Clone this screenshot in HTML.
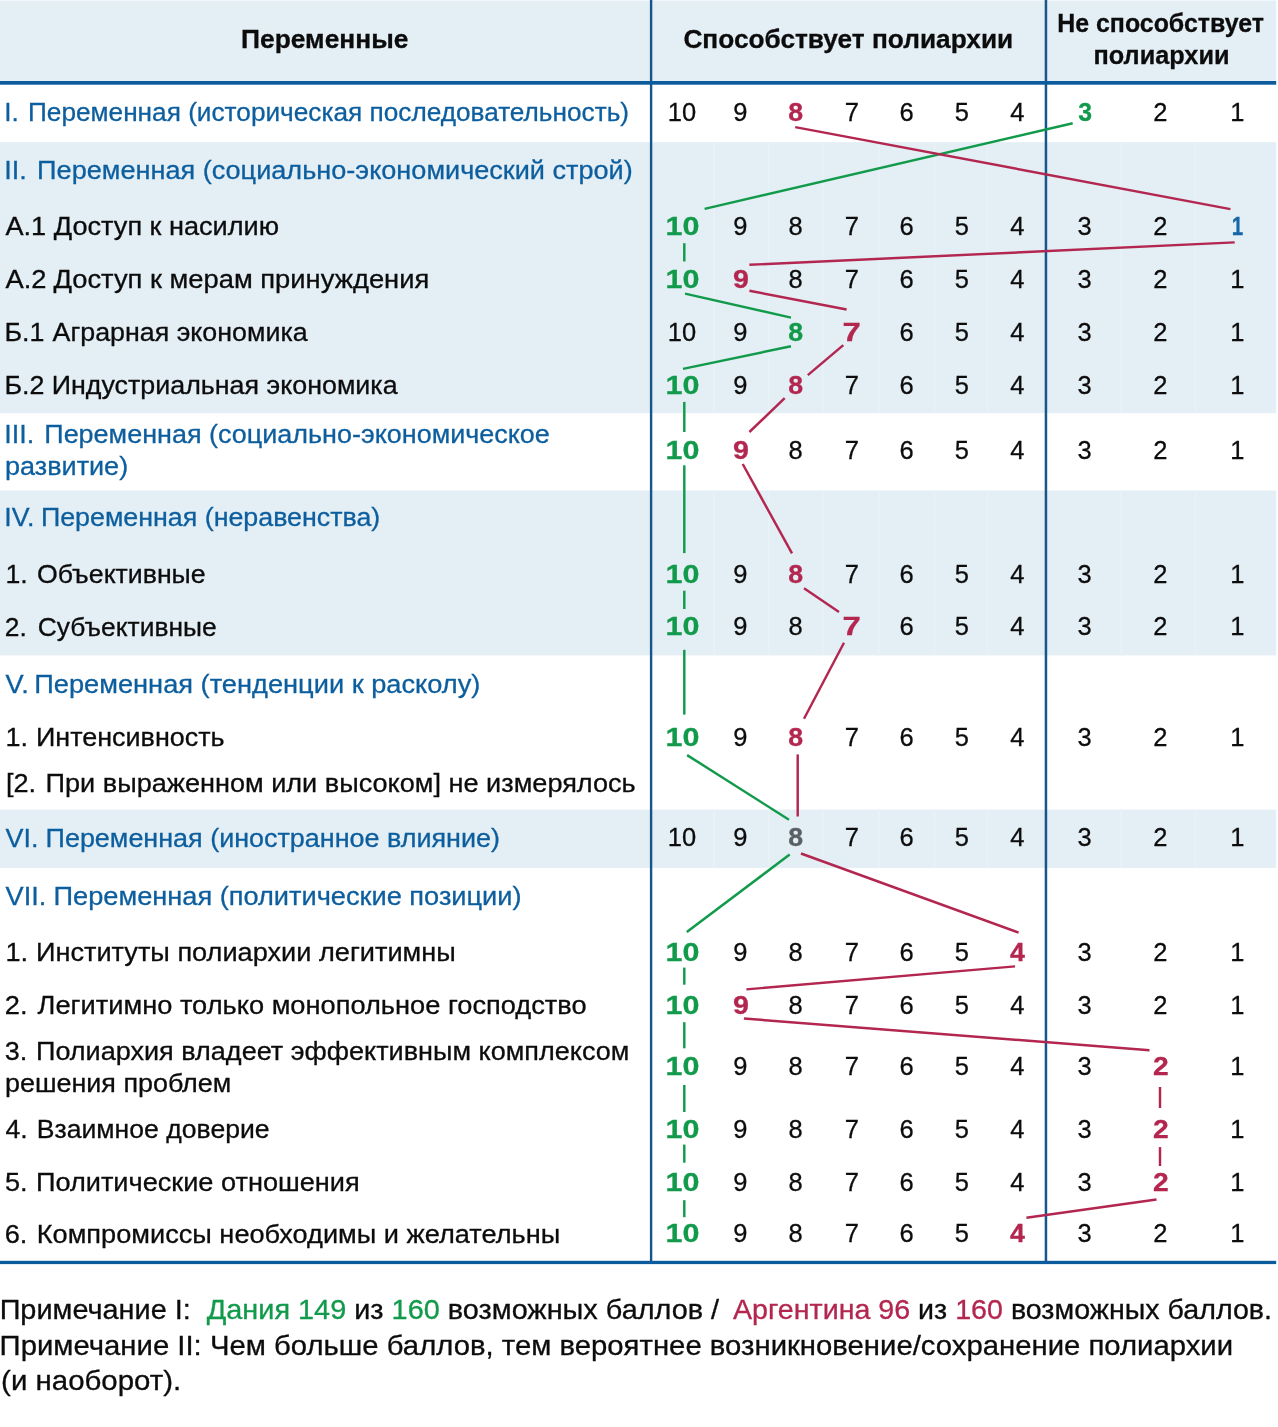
<!DOCTYPE html>
<html lang="ru">
<head>
<meta charset="utf-8">
<title>Переменные полиархии: Дания и Аргентина</title>
<style>
html,body{margin:0;padding:0;background:#fff;}
body{width:1278px;height:1427px;overflow:hidden;position:relative;font-family:"Liberation Sans", sans-serif;}
svg{position:absolute;left:0;top:0;display:block;will-change:transform;}
text{font-family:"Liberation Sans", sans-serif;font-size:26.3px;fill:#0c0c0c;white-space:pre;}
.b{font-weight:bold;}
#notes text{font-size:27.6px;}
#scores text{font-size:26.7px;}
text{stroke-width:0.3px;stroke:#0c0c0c;}
.cb{fill:#0c5e9e;stroke:#0c5e9e;}
.cg{fill:#129a4b;stroke:#129a4b;}
.cr{fill:#b3264f;stroke:#b3264f;}
.cy{fill:#5b6067;stroke:#5b6067;}
.cu{fill:#1767a8;stroke:#1767a8;}
.g{stroke:#129a4b;stroke-width:2.45;fill:none;}
.r{stroke:#b3264f;stroke-width:2.45;fill:none;}
</style>
</head>
<body>
<svg width="1278" height="1427" viewBox="0 0 1278 1427">
<g id="bands" fill="#e3eef5">
<rect x="0" y="0.5" width="1276.2" height="81.5"/>
<rect x="0" y="142.2" width="1276.2" height="271.0"/>
<rect x="0" y="490.5" width="1276.2" height="164.9"/>
<rect x="0" y="809.6" width="1276.2" height="58.3"/>
</g>
<g id="seps" stroke="#e8f1f7" stroke-width="2">
<line x1="713.9" y1="142.2" x2="713.9" y2="413.2"/>
<line x1="768.8" y1="142.2" x2="768.8" y2="413.2"/>
<line x1="822.8" y1="142.2" x2="822.8" y2="413.2"/>
<line x1="879.0" y1="142.2" x2="879.0" y2="413.2"/>
<line x1="934.5" y1="142.2" x2="934.5" y2="413.2"/>
<line x1="987.5" y1="142.2" x2="987.5" y2="413.2"/>
<line x1="1121.0" y1="142.2" x2="1121.0" y2="413.2"/>
<line x1="1195.5" y1="142.2" x2="1195.5" y2="413.2"/>
<line x1="713.9" y1="490.5" x2="713.9" y2="655.4"/>
<line x1="768.8" y1="490.5" x2="768.8" y2="655.4"/>
<line x1="822.8" y1="490.5" x2="822.8" y2="655.4"/>
<line x1="879.0" y1="490.5" x2="879.0" y2="655.4"/>
<line x1="934.5" y1="490.5" x2="934.5" y2="655.4"/>
<line x1="987.5" y1="490.5" x2="987.5" y2="655.4"/>
<line x1="1121.0" y1="490.5" x2="1121.0" y2="655.4"/>
<line x1="1195.5" y1="490.5" x2="1195.5" y2="655.4"/>
<line x1="713.9" y1="809.6" x2="713.9" y2="867.9"/>
<line x1="768.8" y1="809.6" x2="768.8" y2="867.9"/>
<line x1="822.8" y1="809.6" x2="822.8" y2="867.9"/>
<line x1="879.0" y1="809.6" x2="879.0" y2="867.9"/>
<line x1="934.5" y1="809.6" x2="934.5" y2="867.9"/>
<line x1="987.5" y1="809.6" x2="987.5" y2="867.9"/>
<line x1="1121.0" y1="809.6" x2="1121.0" y2="867.9"/>
<line x1="1195.5" y1="809.6" x2="1195.5" y2="867.9"/>
</g>
<g id="rules">
<rect x="649.9" y="0" width="2.4" height="1263" fill="#16568a"/>
<rect x="1044.7" y="0" width="2.5" height="1263" fill="#16568a"/>
<rect x="0" y="81" width="1276.2" height="3.7" fill="#0c5b9c"/>
<rect x="0" y="1260.8" width="1276.2" height="3.3" fill="#0c5b9c"/>
</g>
<g id="head" class="b">
<text x="241.00" y="47.7" textLength="167.43" lengthAdjust="spacingAndGlyphs">Переменные</text>
<text x="683.40" y="47.8" textLength="329.86" lengthAdjust="spacingAndGlyphs">Способствует полиархии</text>
<text x="1057.25" y="32.0" textLength="206.63" lengthAdjust="spacingAndGlyphs">Не способствует</text>
<text x="1093.54" y="63.8" textLength="135.98" lengthAdjust="spacingAndGlyphs">полиархии</text>
</g>
<g id="labels">
<text y="120.8" class="cb"><tspan x="4.31" textLength="21.84" lengthAdjust="spacingAndGlyphs">I. </tspan><tspan x="28.01" textLength="601.05" lengthAdjust="spacingAndGlyphs">Переменная (историческая последовательность)</tspan></text>
<text y="178.9" class="cb"><tspan x="4.24" textLength="30.11" lengthAdjust="spacingAndGlyphs">II. </tspan><tspan x="37.14" textLength="595.64" lengthAdjust="spacingAndGlyphs">Переменная (социально-экономический строй)</tspan></text>
<text y="234.7"><tspan x="5.50" textLength="48.23" lengthAdjust="spacingAndGlyphs">А.1 </tspan><tspan x="53.80" textLength="225.25" lengthAdjust="spacingAndGlyphs">Доступ к насилию</tspan></text>
<text y="287.8"><tspan x="5.50" textLength="48.63" lengthAdjust="spacingAndGlyphs">А.2 </tspan><tspan x="53.40" textLength="375.89" lengthAdjust="spacingAndGlyphs">Доступ к мерам принуждения</tspan></text>
<text y="341.0"><tspan x="4.46" textLength="47.40" lengthAdjust="spacingAndGlyphs">Б.1 </tspan><tspan x="52.60" textLength="255.02" lengthAdjust="spacingAndGlyphs">Аграрная экономика</tspan></text>
<text y="393.8"><tspan x="4.46" textLength="47.44" lengthAdjust="spacingAndGlyphs">Б.2 </tspan><tspan x="51.76" textLength="345.86" lengthAdjust="spacingAndGlyphs">Индустриальная экономика</tspan></text>
<text y="442.6" class="cb"><tspan x="4.25" textLength="37.45" lengthAdjust="spacingAndGlyphs">III. </tspan><tspan x="44.25" textLength="505.59" lengthAdjust="spacingAndGlyphs">Переменная (социально-экономическое</tspan></text>
<text x="4.97" y="475.1" textLength="123.21" lengthAdjust="spacingAndGlyphs" class="cb">развитие)</text>
<text y="526.4" class="cb"><tspan x="4.26" textLength="37.75" lengthAdjust="spacingAndGlyphs">IV. </tspan><tspan x="40.96" textLength="339.31" lengthAdjust="spacingAndGlyphs">Переменная (неравенства)</tspan></text>
<text y="583.0"><tspan x="5.47" textLength="29.66" lengthAdjust="spacingAndGlyphs">1. </tspan><tspan x="36.99" textLength="168.65" lengthAdjust="spacingAndGlyphs">Объективные</tspan></text>
<text y="635.5"><tspan x="4.80" textLength="29.33" lengthAdjust="spacingAndGlyphs">2. </tspan><tspan x="37.80" textLength="178.83" lengthAdjust="spacingAndGlyphs">Субъективные</tspan></text>
<text y="693.4" class="cb"><tspan x="5.50" textLength="30.79" lengthAdjust="spacingAndGlyphs">V. </tspan><tspan x="34.23" textLength="446.15" lengthAdjust="spacingAndGlyphs">Переменная (тенденции к расколу)</tspan></text>
<text y="745.7"><tspan x="5.45" textLength="29.95" lengthAdjust="spacingAndGlyphs">1. </tspan><tspan x="35.95" textLength="188.67" lengthAdjust="spacingAndGlyphs">Интенсивность</tspan></text>
<text y="792.3"><tspan x="5.97" textLength="37.67" lengthAdjust="spacingAndGlyphs">[2. </tspan><tspan x="45.54" textLength="590.18" lengthAdjust="spacingAndGlyphs">При выраженном или высоком] не измерялось</tspan></text>
<text y="846.5" class="cb"><tspan x="5.50" textLength="40.42" lengthAdjust="spacingAndGlyphs">VI. </tspan><tspan x="45.55" textLength="454.42" lengthAdjust="spacingAndGlyphs">Переменная (иностранное влияние)</tspan></text>
<text y="904.6" class="cb"><tspan x="5.50" textLength="48.36" lengthAdjust="spacingAndGlyphs">VII. </tspan><tspan x="53.53" textLength="468.05" lengthAdjust="spacingAndGlyphs">Переменная (политические позиции)</tspan></text>
<text y="960.7"><tspan x="5.44" textLength="30.18" lengthAdjust="spacingAndGlyphs">1. </tspan><tspan x="35.94" textLength="419.79" lengthAdjust="spacingAndGlyphs">Институты полиархии легитимны</tspan></text>
<text y="1013.7"><tspan x="4.76" textLength="30.28" lengthAdjust="spacingAndGlyphs">2. </tspan><tspan x="37.60" textLength="549.05" lengthAdjust="spacingAndGlyphs">Легитимно только монопольное господство</tspan></text>
<text y="1059.6"><tspan x="4.77" textLength="30.07" lengthAdjust="spacingAndGlyphs">3. </tspan><tspan x="35.94" textLength="593.47" lengthAdjust="spacingAndGlyphs">Полиархия владеет эффективным комплексом</tspan></text>
<text x="4.98" y="1091.7" textLength="226.33" lengthAdjust="spacingAndGlyphs">решения проблем</text>
<text y="1137.6"><tspan x="5.50" textLength="29.56" lengthAdjust="spacingAndGlyphs">4. </tspan><tspan x="36.78" textLength="232.85" lengthAdjust="spacingAndGlyphs">Взаимное доверие</tspan></text>
<text y="1190.9"><tspan x="4.97" textLength="30.17" lengthAdjust="spacingAndGlyphs">5. </tspan><tspan x="35.94" textLength="323.74" lengthAdjust="spacingAndGlyphs">Политические отношения</tspan></text>
<text y="1242.6"><tspan x="4.77" textLength="30.21" lengthAdjust="spacingAndGlyphs">6. </tspan><tspan x="36.73" textLength="523.50" lengthAdjust="spacingAndGlyphs">Компромиссы необходимы и желательны</tspan></text>
</g>
<g id="scores">
<text x="667.77" y="120.6" textLength="28.35" lengthAdjust="spacingAndGlyphs">10</text>
<text x="733.34" y="120.6" textLength="14.17" lengthAdjust="spacingAndGlyphs">9</text>
<text class="b cr" x="788.20" y="120.6" textLength="14.84" lengthAdjust="spacingAndGlyphs">8</text>
<text x="844.64" y="120.6" textLength="14.17" lengthAdjust="spacingAndGlyphs">7</text>
<text x="899.54" y="120.6" textLength="14.17" lengthAdjust="spacingAndGlyphs">6</text>
<text x="954.84" y="120.6" textLength="14.17" lengthAdjust="spacingAndGlyphs">5</text>
<text x="1010.34" y="120.6" textLength="14.17" lengthAdjust="spacingAndGlyphs">4</text>
<text class="b cg" x="1078.20" y="120.6" textLength="13.78" lengthAdjust="spacingAndGlyphs">3</text>
<text x="1153.24" y="120.6" textLength="14.17" lengthAdjust="spacingAndGlyphs">2</text>
<text x="1230.16" y="120.6" textLength="14.17" lengthAdjust="spacingAndGlyphs">1</text>
<text class="b cg" x="665.46" y="234.8" textLength="33.90" lengthAdjust="spacingAndGlyphs">10</text>
<text x="733.34" y="234.8" textLength="14.17" lengthAdjust="spacingAndGlyphs">9</text>
<text x="788.54" y="234.8" textLength="14.17" lengthAdjust="spacingAndGlyphs">8</text>
<text x="844.64" y="234.8" textLength="14.17" lengthAdjust="spacingAndGlyphs">7</text>
<text x="899.54" y="234.8" textLength="14.17" lengthAdjust="spacingAndGlyphs">6</text>
<text x="954.84" y="234.8" textLength="14.17" lengthAdjust="spacingAndGlyphs">5</text>
<text x="1010.34" y="234.8" textLength="14.17" lengthAdjust="spacingAndGlyphs">4</text>
<text x="1077.54" y="234.8" textLength="14.17" lengthAdjust="spacingAndGlyphs">3</text>
<text x="1153.24" y="234.8" textLength="14.17" lengthAdjust="spacingAndGlyphs">2</text>
<text class="b cu" x="1231.63" y="234.8" textLength="11.45" lengthAdjust="spacingAndGlyphs">1</text>
<text class="b cg" x="665.46" y="288.2" textLength="33.90" lengthAdjust="spacingAndGlyphs">10</text>
<text class="b cr" x="733.00" y="288.2" textLength="15.90" lengthAdjust="spacingAndGlyphs">9</text>
<text x="788.54" y="288.2" textLength="14.17" lengthAdjust="spacingAndGlyphs">8</text>
<text x="844.64" y="288.2" textLength="14.17" lengthAdjust="spacingAndGlyphs">7</text>
<text x="899.54" y="288.2" textLength="14.17" lengthAdjust="spacingAndGlyphs">6</text>
<text x="954.84" y="288.2" textLength="14.17" lengthAdjust="spacingAndGlyphs">5</text>
<text x="1010.34" y="288.2" textLength="14.17" lengthAdjust="spacingAndGlyphs">4</text>
<text x="1077.54" y="288.2" textLength="14.17" lengthAdjust="spacingAndGlyphs">3</text>
<text x="1153.24" y="288.2" textLength="14.17" lengthAdjust="spacingAndGlyphs">2</text>
<text x="1230.16" y="288.2" textLength="14.17" lengthAdjust="spacingAndGlyphs">1</text>
<text x="667.77" y="340.7" textLength="28.35" lengthAdjust="spacingAndGlyphs">10</text>
<text x="733.34" y="340.7" textLength="14.17" lengthAdjust="spacingAndGlyphs">9</text>
<text class="b cg" x="788.20" y="340.7" textLength="14.84" lengthAdjust="spacingAndGlyphs">8</text>
<text class="b cr" x="842.57" y="340.7" textLength="18.27" lengthAdjust="spacingAndGlyphs">7</text>
<text x="899.54" y="340.7" textLength="14.17" lengthAdjust="spacingAndGlyphs">6</text>
<text x="954.84" y="340.7" textLength="14.17" lengthAdjust="spacingAndGlyphs">5</text>
<text x="1010.34" y="340.7" textLength="14.17" lengthAdjust="spacingAndGlyphs">4</text>
<text x="1077.54" y="340.7" textLength="14.17" lengthAdjust="spacingAndGlyphs">3</text>
<text x="1153.24" y="340.7" textLength="14.17" lengthAdjust="spacingAndGlyphs">2</text>
<text x="1230.16" y="340.7" textLength="14.17" lengthAdjust="spacingAndGlyphs">1</text>
<text class="b cg" x="665.46" y="393.9" textLength="33.90" lengthAdjust="spacingAndGlyphs">10</text>
<text x="733.34" y="393.9" textLength="14.17" lengthAdjust="spacingAndGlyphs">9</text>
<text class="b cr" x="788.20" y="393.9" textLength="14.84" lengthAdjust="spacingAndGlyphs">8</text>
<text x="844.64" y="393.9" textLength="14.17" lengthAdjust="spacingAndGlyphs">7</text>
<text x="899.54" y="393.9" textLength="14.17" lengthAdjust="spacingAndGlyphs">6</text>
<text x="954.84" y="393.9" textLength="14.17" lengthAdjust="spacingAndGlyphs">5</text>
<text x="1010.34" y="393.9" textLength="14.17" lengthAdjust="spacingAndGlyphs">4</text>
<text x="1077.54" y="393.9" textLength="14.17" lengthAdjust="spacingAndGlyphs">3</text>
<text x="1153.24" y="393.9" textLength="14.17" lengthAdjust="spacingAndGlyphs">2</text>
<text x="1230.16" y="393.9" textLength="14.17" lengthAdjust="spacingAndGlyphs">1</text>
<text class="b cg" x="665.46" y="459.0" textLength="33.90" lengthAdjust="spacingAndGlyphs">10</text>
<text class="b cr" x="733.00" y="459.0" textLength="15.90" lengthAdjust="spacingAndGlyphs">9</text>
<text x="788.54" y="459.0" textLength="14.17" lengthAdjust="spacingAndGlyphs">8</text>
<text x="844.64" y="459.0" textLength="14.17" lengthAdjust="spacingAndGlyphs">7</text>
<text x="899.54" y="459.0" textLength="14.17" lengthAdjust="spacingAndGlyphs">6</text>
<text x="954.84" y="459.0" textLength="14.17" lengthAdjust="spacingAndGlyphs">5</text>
<text x="1010.34" y="459.0" textLength="14.17" lengthAdjust="spacingAndGlyphs">4</text>
<text x="1077.54" y="459.0" textLength="14.17" lengthAdjust="spacingAndGlyphs">3</text>
<text x="1153.24" y="459.0" textLength="14.17" lengthAdjust="spacingAndGlyphs">2</text>
<text x="1230.16" y="459.0" textLength="14.17" lengthAdjust="spacingAndGlyphs">1</text>
<text class="b cg" x="665.46" y="582.7" textLength="33.90" lengthAdjust="spacingAndGlyphs">10</text>
<text x="733.34" y="582.7" textLength="14.17" lengthAdjust="spacingAndGlyphs">9</text>
<text class="b cr" x="788.20" y="582.7" textLength="14.84" lengthAdjust="spacingAndGlyphs">8</text>
<text x="844.64" y="582.7" textLength="14.17" lengthAdjust="spacingAndGlyphs">7</text>
<text x="899.54" y="582.7" textLength="14.17" lengthAdjust="spacingAndGlyphs">6</text>
<text x="954.84" y="582.7" textLength="14.17" lengthAdjust="spacingAndGlyphs">5</text>
<text x="1010.34" y="582.7" textLength="14.17" lengthAdjust="spacingAndGlyphs">4</text>
<text x="1077.54" y="582.7" textLength="14.17" lengthAdjust="spacingAndGlyphs">3</text>
<text x="1153.24" y="582.7" textLength="14.17" lengthAdjust="spacingAndGlyphs">2</text>
<text x="1230.16" y="582.7" textLength="14.17" lengthAdjust="spacingAndGlyphs">1</text>
<text class="b cg" x="665.46" y="635.2" textLength="33.90" lengthAdjust="spacingAndGlyphs">10</text>
<text x="733.34" y="635.2" textLength="14.17" lengthAdjust="spacingAndGlyphs">9</text>
<text x="788.54" y="635.2" textLength="14.17" lengthAdjust="spacingAndGlyphs">8</text>
<text class="b cr" x="842.57" y="635.2" textLength="18.27" lengthAdjust="spacingAndGlyphs">7</text>
<text x="899.54" y="635.2" textLength="14.17" lengthAdjust="spacingAndGlyphs">6</text>
<text x="954.84" y="635.2" textLength="14.17" lengthAdjust="spacingAndGlyphs">5</text>
<text x="1010.34" y="635.2" textLength="14.17" lengthAdjust="spacingAndGlyphs">4</text>
<text x="1077.54" y="635.2" textLength="14.17" lengthAdjust="spacingAndGlyphs">3</text>
<text x="1153.24" y="635.2" textLength="14.17" lengthAdjust="spacingAndGlyphs">2</text>
<text x="1230.16" y="635.2" textLength="14.17" lengthAdjust="spacingAndGlyphs">1</text>
<text class="b cg" x="665.46" y="745.6" textLength="33.90" lengthAdjust="spacingAndGlyphs">10</text>
<text x="733.34" y="745.6" textLength="14.17" lengthAdjust="spacingAndGlyphs">9</text>
<text class="b cr" x="788.20" y="745.6" textLength="14.84" lengthAdjust="spacingAndGlyphs">8</text>
<text x="844.64" y="745.6" textLength="14.17" lengthAdjust="spacingAndGlyphs">7</text>
<text x="899.54" y="745.6" textLength="14.17" lengthAdjust="spacingAndGlyphs">6</text>
<text x="954.84" y="745.6" textLength="14.17" lengthAdjust="spacingAndGlyphs">5</text>
<text x="1010.34" y="745.6" textLength="14.17" lengthAdjust="spacingAndGlyphs">4</text>
<text x="1077.54" y="745.6" textLength="14.17" lengthAdjust="spacingAndGlyphs">3</text>
<text x="1153.24" y="745.6" textLength="14.17" lengthAdjust="spacingAndGlyphs">2</text>
<text x="1230.16" y="745.6" textLength="14.17" lengthAdjust="spacingAndGlyphs">1</text>
<text x="667.77" y="846.0" textLength="28.35" lengthAdjust="spacingAndGlyphs">10</text>
<text x="733.34" y="846.0" textLength="14.17" lengthAdjust="spacingAndGlyphs">9</text>
<text class="b cy" x="788.20" y="846.0" textLength="14.84" lengthAdjust="spacingAndGlyphs">8</text>
<text x="844.64" y="846.0" textLength="14.17" lengthAdjust="spacingAndGlyphs">7</text>
<text x="899.54" y="846.0" textLength="14.17" lengthAdjust="spacingAndGlyphs">6</text>
<text x="954.84" y="846.0" textLength="14.17" lengthAdjust="spacingAndGlyphs">5</text>
<text x="1010.34" y="846.0" textLength="14.17" lengthAdjust="spacingAndGlyphs">4</text>
<text x="1077.54" y="846.0" textLength="14.17" lengthAdjust="spacingAndGlyphs">3</text>
<text x="1153.24" y="846.0" textLength="14.17" lengthAdjust="spacingAndGlyphs">2</text>
<text x="1230.16" y="846.0" textLength="14.17" lengthAdjust="spacingAndGlyphs">1</text>
<text class="b cg" x="665.46" y="960.9" textLength="33.90" lengthAdjust="spacingAndGlyphs">10</text>
<text x="733.34" y="960.9" textLength="14.17" lengthAdjust="spacingAndGlyphs">9</text>
<text x="788.54" y="960.9" textLength="14.17" lengthAdjust="spacingAndGlyphs">8</text>
<text x="844.64" y="960.9" textLength="14.17" lengthAdjust="spacingAndGlyphs">7</text>
<text x="899.54" y="960.9" textLength="14.17" lengthAdjust="spacingAndGlyphs">6</text>
<text x="954.84" y="960.9" textLength="14.17" lengthAdjust="spacingAndGlyphs">5</text>
<text class="b cr" x="1010.00" y="960.9" textLength="14.84" lengthAdjust="spacingAndGlyphs">4</text>
<text x="1077.54" y="960.9" textLength="14.17" lengthAdjust="spacingAndGlyphs">3</text>
<text x="1153.24" y="960.9" textLength="14.17" lengthAdjust="spacingAndGlyphs">2</text>
<text x="1230.16" y="960.9" textLength="14.17" lengthAdjust="spacingAndGlyphs">1</text>
<text class="b cg" x="665.46" y="1014.0" textLength="33.90" lengthAdjust="spacingAndGlyphs">10</text>
<text class="b cr" x="733.00" y="1014.0" textLength="15.90" lengthAdjust="spacingAndGlyphs">9</text>
<text x="788.54" y="1014.0" textLength="14.17" lengthAdjust="spacingAndGlyphs">8</text>
<text x="844.64" y="1014.0" textLength="14.17" lengthAdjust="spacingAndGlyphs">7</text>
<text x="899.54" y="1014.0" textLength="14.17" lengthAdjust="spacingAndGlyphs">6</text>
<text x="954.84" y="1014.0" textLength="14.17" lengthAdjust="spacingAndGlyphs">5</text>
<text x="1010.34" y="1014.0" textLength="14.17" lengthAdjust="spacingAndGlyphs">4</text>
<text x="1077.54" y="1014.0" textLength="14.17" lengthAdjust="spacingAndGlyphs">3</text>
<text x="1153.24" y="1014.0" textLength="14.17" lengthAdjust="spacingAndGlyphs">2</text>
<text x="1230.16" y="1014.0" textLength="14.17" lengthAdjust="spacingAndGlyphs">1</text>
<text class="b cg" x="665.46" y="1075.4" textLength="33.90" lengthAdjust="spacingAndGlyphs">10</text>
<text x="733.34" y="1075.4" textLength="14.17" lengthAdjust="spacingAndGlyphs">9</text>
<text x="788.54" y="1075.4" textLength="14.17" lengthAdjust="spacingAndGlyphs">8</text>
<text x="844.64" y="1075.4" textLength="14.17" lengthAdjust="spacingAndGlyphs">7</text>
<text x="899.54" y="1075.4" textLength="14.17" lengthAdjust="spacingAndGlyphs">6</text>
<text x="954.84" y="1075.4" textLength="14.17" lengthAdjust="spacingAndGlyphs">5</text>
<text x="1010.34" y="1075.4" textLength="14.17" lengthAdjust="spacingAndGlyphs">4</text>
<text x="1077.54" y="1075.4" textLength="14.17" lengthAdjust="spacingAndGlyphs">3</text>
<text class="b cr" x="1153.00" y="1075.4" textLength="15.69" lengthAdjust="spacingAndGlyphs">2</text>
<text x="1230.16" y="1075.4" textLength="14.17" lengthAdjust="spacingAndGlyphs">1</text>
<text class="b cg" x="665.46" y="1137.6" textLength="33.90" lengthAdjust="spacingAndGlyphs">10</text>
<text x="733.34" y="1137.6" textLength="14.17" lengthAdjust="spacingAndGlyphs">9</text>
<text x="788.54" y="1137.6" textLength="14.17" lengthAdjust="spacingAndGlyphs">8</text>
<text x="844.64" y="1137.6" textLength="14.17" lengthAdjust="spacingAndGlyphs">7</text>
<text x="899.54" y="1137.6" textLength="14.17" lengthAdjust="spacingAndGlyphs">6</text>
<text x="954.84" y="1137.6" textLength="14.17" lengthAdjust="spacingAndGlyphs">5</text>
<text x="1010.34" y="1137.6" textLength="14.17" lengthAdjust="spacingAndGlyphs">4</text>
<text x="1077.54" y="1137.6" textLength="14.17" lengthAdjust="spacingAndGlyphs">3</text>
<text class="b cr" x="1153.00" y="1137.6" textLength="15.69" lengthAdjust="spacingAndGlyphs">2</text>
<text x="1230.16" y="1137.6" textLength="14.17" lengthAdjust="spacingAndGlyphs">1</text>
<text class="b cg" x="665.46" y="1190.7" textLength="33.90" lengthAdjust="spacingAndGlyphs">10</text>
<text x="733.34" y="1190.7" textLength="14.17" lengthAdjust="spacingAndGlyphs">9</text>
<text x="788.54" y="1190.7" textLength="14.17" lengthAdjust="spacingAndGlyphs">8</text>
<text x="844.64" y="1190.7" textLength="14.17" lengthAdjust="spacingAndGlyphs">7</text>
<text x="899.54" y="1190.7" textLength="14.17" lengthAdjust="spacingAndGlyphs">6</text>
<text x="954.84" y="1190.7" textLength="14.17" lengthAdjust="spacingAndGlyphs">5</text>
<text x="1010.34" y="1190.7" textLength="14.17" lengthAdjust="spacingAndGlyphs">4</text>
<text x="1077.54" y="1190.7" textLength="14.17" lengthAdjust="spacingAndGlyphs">3</text>
<text class="b cr" x="1153.00" y="1190.7" textLength="15.69" lengthAdjust="spacingAndGlyphs">2</text>
<text x="1230.16" y="1190.7" textLength="14.17" lengthAdjust="spacingAndGlyphs">1</text>
<text class="b cg" x="665.46" y="1242.3" textLength="33.90" lengthAdjust="spacingAndGlyphs">10</text>
<text x="733.34" y="1242.3" textLength="14.17" lengthAdjust="spacingAndGlyphs">9</text>
<text x="788.54" y="1242.3" textLength="14.17" lengthAdjust="spacingAndGlyphs">8</text>
<text x="844.64" y="1242.3" textLength="14.17" lengthAdjust="spacingAndGlyphs">7</text>
<text x="899.54" y="1242.3" textLength="14.17" lengthAdjust="spacingAndGlyphs">6</text>
<text x="954.84" y="1242.3" textLength="14.17" lengthAdjust="spacingAndGlyphs">5</text>
<text class="b cr" x="1010.00" y="1242.3" textLength="14.84" lengthAdjust="spacingAndGlyphs">4</text>
<text x="1077.54" y="1242.3" textLength="14.17" lengthAdjust="spacingAndGlyphs">3</text>
<text x="1153.24" y="1242.3" textLength="14.17" lengthAdjust="spacingAndGlyphs">2</text>
<text x="1230.16" y="1242.3" textLength="14.17" lengthAdjust="spacingAndGlyphs">1</text>
</g>
<g id="denmark" class="g">
<line x1="704.6" y1="208.9" x2="1072.7" y2="123.2"/>
<line x1="684.3" y1="243.2" x2="684.3" y2="261.5"/>
<line x1="685.0" y1="293.6" x2="791.0" y2="317.6"/>
<line x1="791.0" y1="346.3" x2="683.0" y2="368.9"/>
<line x1="684.3" y1="401.9" x2="684.3" y2="432.0"/>
<line x1="684.3" y1="465.3" x2="684.3" y2="553.1"/>
<line x1="684.3" y1="590.7" x2="684.3" y2="609.0"/>
<line x1="684.3" y1="649.8" x2="684.3" y2="714.6"/>
<line x1="687.1" y1="755.1" x2="789.0" y2="819.7"/>
<line x1="789.7" y1="854.5" x2="686.8" y2="932.1"/>
<line x1="684.3" y1="967.6" x2="684.3" y2="984.7"/>
<line x1="684.3" y1="1022.2" x2="684.3" y2="1048.3"/>
<line x1="684.3" y1="1085.0" x2="684.3" y2="1112.0"/>
<line x1="684.3" y1="1144.6" x2="684.3" y2="1162.7"/>
<line x1="684.3" y1="1200.2" x2="684.3" y2="1217.2"/>
</g>
<g id="argentina" class="r">
<line x1="795.2" y1="127.1" x2="1230.4" y2="209.1"/>
<line x1="1234.7" y1="242.4" x2="749.4" y2="264.8"/>
<line x1="749.4" y1="290.8" x2="846.6" y2="309.5"/>
<line x1="843.3" y1="345.1" x2="807.8" y2="375.1"/>
<line x1="784.7" y1="398.2" x2="749.4" y2="432.0"/>
<line x1="742.7" y1="464.0" x2="792.0" y2="553.4"/>
<line x1="804.0" y1="588.2" x2="839.0" y2="612.0"/>
<line x1="844.0" y1="642.7" x2="804.0" y2="718.8"/>
<line x1="797.7" y1="754.4" x2="797.7" y2="816.5"/>
<line x1="801.0" y1="853.5" x2="1018.6" y2="932.6"/>
<line x1="1015.1" y1="966.4" x2="746.4" y2="989.4"/>
<line x1="743.9" y1="1018.5" x2="1149.5" y2="1050.3"/>
<line x1="1160.0" y1="1087.0" x2="1160.0" y2="1108.0"/>
<line x1="1160.0" y1="1147.1" x2="1160.0" y2="1166.0"/>
<line x1="1156.5" y1="1199.5" x2="1026.4" y2="1217.8"/>
</g>
<g id="notes">
<text y="1319.0" xml:space="preserve"><tspan x="-0.39" textLength="727.56" lengthAdjust="spacingAndGlyphs">Примечание I:  <tspan class="cg">Дания 149</tspan> из <tspan class="cg">160</tspan> возможных баллов / </tspan><tspan x="733.00" textLength="539.03" lengthAdjust="spacingAndGlyphs"><tspan class="cr">Аргентина 96</tspan> из <tspan class="cr">160</tspan> возможных баллов.</tspan></text>
<text y="1354.5" xml:space="preserve"><tspan x="-0.42" textLength="1233.52" lengthAdjust="spacingAndGlyphs">Примечание II: Чем больше баллов, тем вероятнее возникновение/сохранение полиархии</tspan></text>
<text y="1389.6" xml:space="preserve"><tspan x="1.13" textLength="180.14" lengthAdjust="spacingAndGlyphs">(и наоборот).</tspan></text>
</g>
</svg>
</body>
</html>
